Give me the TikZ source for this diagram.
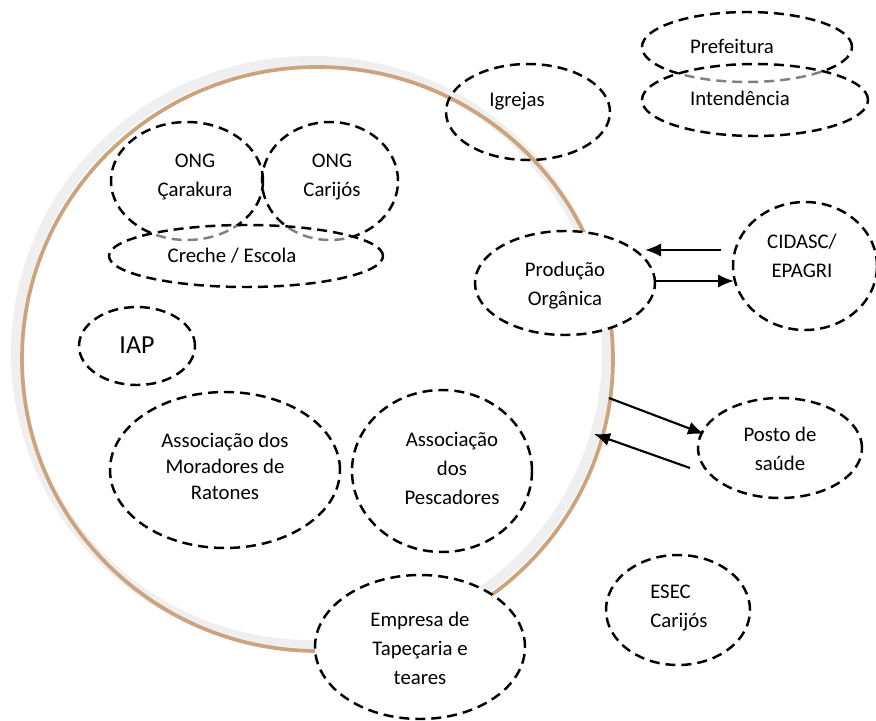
\documentclass[tikz,border=0pt]{standalone}
\usepackage{fontspec}
\setmainfont{Carlito}
\usetikzlibrary{shapes.geometric,arrows.meta}
\definecolor{ringbrown}{RGB}{205,163,125}
\definecolor{ringgray}{RGB}{239,239,239}
\begin{document}
\begin{tikzpicture}[x=0.75pt,y=-0.75pt,
  oval/.style={ellipse, draw=black, line width=1.85pt, dash pattern=on 7.5pt off 4.5pt, inner sep=0pt},
  veil/.style={fill=white, fill opacity=0.5},
  lbl/.style={font=\fontsize{15.6}{21.75}\selectfont, align=center, inner sep=0pt},
  arr/.style={line width=1.6pt, -{Latex[length=12pt,width=10pt]}}]
\useasboundingbox (0,0) rectangle (876,721);
% big ring
\draw[ringgray, line width=7.5pt] (311.5,353) ellipse [x radius=221.6pt, y radius=219pt];
\draw[ringbrown, line width=2.8pt] (317.5,359) ellipse [x radius=221.6pt, y radius=219pt];
% ellipses
\node[oval, minimum width=157.5pt, minimum height=52.5pt] (pref) at (747,47) {};
\node[oval, veil, minimum width=169.5pt, minimum height=54pt] (inten) at (755,100) {};
\node[oval, minimum width=123pt, minimum height=72pt] (igr) at (528,112) {};
\node[oval, minimum width=114pt, minimum height=88.5pt] (cara) at (187,181) {};
\node[oval, minimum width=102pt, minimum height=88.5pt] (cari) at (330,181) {};
\node[oval, veil, minimum width=205.5pt, minimum height=46.5pt] (creche) at (246,256) {};
\node[oval, minimum width=87pt, minimum height=58.5pt] (iap) at (137,346) {};
\node[oval, minimum width=172.5pt, minimum height=117pt] (mor) at (225,470) {};
\node[oval, minimum width=135pt, minimum height=121.5pt] (pesc) at (442,471) {};
\node[oval, fill=white, minimum width=135pt, minimum height=78pt] (prod) at (565,283) {};
\node[oval, minimum width=108pt, minimum height=96pt] (cid) at (805,266) {};
\node[oval, minimum width=123pt, minimum height=75pt] (posto) at (780,448) {};
\node[oval, minimum width=108pt, minimum height=82.5pt] (esec) at (678,610) {};
\node[oval, fill=white, minimum width=157.5pt, minimum height=108pt] (emp) at (420,647) {};
% labels
\node[lbl] (tpref) at (732,46) {Prefeitura};
\node[lbl] (tinten) at (740,98) {Intendência};
\node[lbl] (tigr) at (517,101) {Igrejas};
\node[lbl] (tcara) at (195,177) {ONG\\Çarakura};
\node[lbl] (tcari) at (332,177) {ONG\\Carijós};
\node[lbl] (tcreche) at (232,256) {Creche / Escola};
\node[lbl, font=\fontsize{19.5}{24}\selectfont] (tiap) at (137,345) {IAP};
\node[lbl, font=\fontsize{15.6}{19.5}\selectfont] (tmor) at (225,466) {Associação dos\\Moradores de\\Ratones};
\node[lbl] (tpesc) at (452,468) {Associação\\dos\\Pescadores};
\node[lbl] (tprod) at (565,286) {Produção\\Orgânica};
\node[lbl] (tcid) at (802,256) {CIDASC/\\EPAGRI};
\node[lbl] (tposto) at (780,449) {Posto de\\saúde};
\node[lbl, align=left, anchor=west] (tesec) at (650,608) {ESEC\\Carijós};
\node[lbl] (temp) at (420,648) {Empresa de\\Tapeçaria e\\teares};
% arrows
\coordinate (c1s) at (721,250);
\coordinate (c1e) at (645,250);
\coordinate (c2s) at (656,281);
\coordinate (c2e) at (734,281);
\coordinate (p1s) at (609,398);
\coordinate (p1e) at (704,434);
\coordinate (p2s) at (690,468);
\coordinate (p2e) at (594,434);
\draw[arr] (c1s) -- (c1e);
\draw[arr] (c2s) -- (c2e);
\draw[arr] (p1s) -- (p1e);
\draw[arr] (p2s) -- (p2e);
\end{tikzpicture}
\end{document}
